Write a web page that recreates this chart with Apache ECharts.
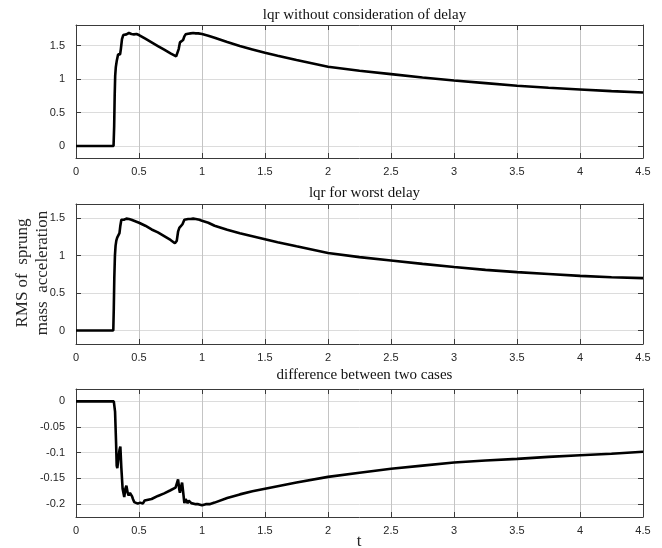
<!DOCTYPE html>
<html>
<head>
<meta charset="utf-8">
<script src="https://cdn.jsdelivr.net/npm/echarts@6/dist/echarts.min.js"></script>
<style>
  html, body { margin: 0; padding: 0; background: #fff; }
  #chart { width: 662px; height: 548px; }
</style>
</head>
<body>
<div id="chart"></div>
<script>
// values
const titles = ['lqr without consideration of delay', 'lqr for worst delay', 'difference between two cases']
const xTicks = [0, 0.5, 1, 1.5, 2, 2.5, 3, 3.5, 4, 4.5]
const yTicks1 = [0, 0.5, 1, 1.5]
const yTicks2 = [0, 0.5, 1, 1.5]
const yTicks3 = [-0.2, -0.15, -0.1, -0.05, 0]
const yLabel = 'RMS of  sprung\nmass  acceleration'
const xLabel = 't'

const tNoDelay = [0, 0.298, 0.303, 0.307, 0.311, 0.316, 0.324, 0.334, 0.35, 0.356, 0.365, 0.375, 0.39, 0.4, 0.41, 0.42, 0.43, 0.44, 0.45, 0.46, 0.48, 0.5, 0.55, 0.6, 0.65, 0.7, 0.75, 0.795, 0.8, 0.805, 0.815, 0.825, 0.84, 0.85, 0.86, 0.87, 0.88, 0.89, 0.91, 0.93, 0.95, 0.97, 1.0, 1.05, 1.1, 1.2, 1.3, 1.4, 1.5, 1.6, 1.75, 2.0, 2.25, 2.5, 2.75, 3.0, 3.25, 3.5, 3.75, 4.0, 4.25, 4.5]
const rmsNoDelay = [0, 0, 0.3, 0.75, 1.05, 1.18, 1.28, 1.37, 1.37, 1.45, 1.6, 1.66, 1.665, 1.67, 1.665, 1.69, 1.68, 1.675, 1.68, 1.67, 1.675, 1.66, 1.605, 1.55, 1.495, 1.44, 1.385, 1.34, 1.32, 1.33, 1.45, 1.55, 1.57, 1.585, 1.64, 1.67, 1.67, 1.68, 1.685, 1.69, 1.685, 1.685, 1.675, 1.65, 1.62, 1.555, 1.495, 1.445, 1.395, 1.35, 1.285, 1.185, 1.125, 1.075, 1.025, 0.98, 0.94, 0.9, 0.87, 0.845, 0.82, 0.8]

const tWorst = [0, 0.296, 0.3, 0.304, 0.309, 0.314, 0.32, 0.327, 0.34, 0.345, 0.352, 0.36, 0.37, 0.38, 0.39, 0.4, 0.41, 0.42, 0.43, 0.44, 0.45, 0.5, 0.55, 0.6, 0.65, 0.7, 0.75, 0.785, 0.792, 0.8, 0.81, 0.82, 0.835, 0.845, 0.86, 0.875, 0.89, 0.91, 0.93, 0.95, 0.98, 1.0, 1.05, 1.1, 1.2, 1.3, 1.4, 1.5, 1.6, 1.75, 2.0, 2.25, 2.5, 2.75, 3.0, 3.25, 3.5, 3.75, 4.0, 4.25, 4.5]
const rmsWorst = [0, 0, 0.3, 0.7, 1.0, 1.13, 1.2, 1.24, 1.245, 1.3, 1.4, 1.48, 1.485, 1.48, 1.49, 1.495, 1.5, 1.49, 1.49, 1.48, 1.475, 1.44, 1.4, 1.35, 1.31, 1.26, 1.21, 1.165, 1.15, 1.2, 1.32, 1.37, 1.38, 1.42, 1.48, 1.485, 1.49, 1.49, 1.495, 1.49, 1.48, 1.465, 1.44, 1.4, 1.345, 1.3, 1.26, 1.22, 1.18, 1.125, 1.035, 0.98, 0.935, 0.89, 0.848, 0.81, 0.78, 0.755, 0.73, 0.712, 0.7]

const tDiff = [0, 0.3, 0.31, 0.318, 0.323, 0.328, 0.335, 0.345, 0.352, 0.36, 0.37, 0.383, 0.392, 0.4, 0.41, 0.418, 0.428, 0.437, 0.445, 0.452, 0.462, 0.475, 0.49, 0.51, 0.53, 0.545, 0.56, 0.6, 0.65, 0.7, 0.75, 0.79, 0.8, 0.81, 0.82, 0.825, 0.835, 0.842, 0.85, 0.86, 0.87, 0.878, 0.886, 0.895, 0.905, 0.915, 0.93, 0.95, 0.97, 1.0, 1.03, 1.06, 1.1, 1.2, 1.3, 1.4, 1.5, 1.6, 1.75, 2.0, 2.25, 2.5, 2.75, 3.0, 3.25, 3.5, 3.75, 4.0, 4.25, 4.5]
const rmsDiff = [0, 0, -0.02, -0.08, -0.125, -0.13, -0.115, -0.095, -0.088, -0.13, -0.17, -0.186, -0.17, -0.164, -0.178, -0.183, -0.178, -0.175, -0.185, -0.19, -0.196, -0.197, -0.199, -0.197, -0.199, -0.193, -0.196, -0.19, -0.184, -0.179, -0.173, -0.168, -0.16, -0.152, -0.172, -0.178, -0.165, -0.158, -0.175, -0.198, -0.19, -0.187, -0.198, -0.193, -0.19, -0.198, -0.195, -0.2, -0.2, -0.202, -0.2, -0.2, -0.197, -0.188, -0.181, -0.175, -0.17, -0.165, -0.158, -0.147, -0.139, -0.131, -0.125, -0.119, -0.115, -0.112, -0.108, -0.105, -0.102, -0.098]

const pairs = (ts, vs) => ts.map((t, i) => [t, vs[i]])

const grids = [
    {left: 76, right: 19, top: 25, height: 133, outerBoundsMode: 'none'},
    {left: 76, right: 19, top: 204, height: 140, outerBoundsMode: 'none'},
    {left: 76, right: 19, top: 389, height: 128, outerBoundsMode: 'none'}
]
const yRanges = [[-0.18, 1.81], [-0.18, 1.69], [-0.225, 0.024]]
const yTickSets = [yTicks1, yTicks2, yTicks3]

const labelFont = {fontFamily: 'Liberation Sans', fontSize: 11, color: '#262626'}
const frame = {show: true, onZero: false, lineStyle: {color: '#3a3a3a', width: 1}}
const tick = {show: true, inside: true, length: 5, lineStyle: {color: '#3a3a3a'}}

let xAxes = [], yAxes = []
grids.forEach((g, i) => {
    xAxes.push({
        type: 'value', gridIndex: i, min: 0, max: 4.5, interval: 0.5, position: 'bottom',
        axisLine: frame, axisTick: tick,
        axisLabel: Object.assign({margin: 8}, labelFont),
        splitLine: {show: true, lineStyle: {color: '#c4c4c4', width: 1}}
    })
    xAxes.push({
        type: 'value', gridIndex: i, min: 0, max: 4.5, interval: 0.5, position: 'top',
        axisLine: frame, axisTick: tick, axisLabel: {show: false}, splitLine: {show: false}
    })
    const ticks = yTickSets[i]
    yAxes.push({
        type: 'value', gridIndex: i, min: yRanges[i][0], max: yRanges[i][1], position: 'left',
        axisLine: frame,
        axisTick: Object.assign({customValues: ticks}, tick),
        axisLabel: Object.assign({customValues: ticks, margin: 11}, labelFont),
        splitLine: {show: true, lineStyle: {color: '#dcdcdc', width: 1}}
    })
    yAxes.push({
        type: 'value', gridIndex: i, min: yRanges[i][0], max: yRanges[i][1], position: 'right',
        axisLine: frame,
        axisTick: Object.assign({customValues: ticks}, tick),
        axisLabel: {show: false}, splitLine: {show: false}
    })
})

const seriesData = [pairs(tNoDelay, rmsNoDelay), pairs(tWorst, rmsWorst), pairs(tDiff, rmsDiff)]

let option = {
    backgroundColor: '#fff',
    animation: false,
    title: titles.map((txt, i) => ({
        text: txt,
        left: 76 + 567 / 2, textAlign: 'center',
        top: [3, 181, 363][i],
        textStyle: {fontFamily: 'Liberation Serif', fontSize: 15, fontWeight: 'normal', color: '#111'}
    })),
    graphic: [
        {
            type: 'text', x: 33, y: 273, rotation: Math.PI / 2,
            style: {text: yLabel, align: 'center', verticalAlign: 'middle', lineHeight: 20,
                font: '17px "Liberation Serif"', fill: '#262626'}
        },
        {
            type: 'text', x: 359, y: 542,
            style: {text: xLabel, align: 'center', verticalAlign: 'middle',
                font: '17px "Liberation Serif"', fill: '#262626'}
        }
    ],
    grid: grids,
    xAxis: xAxes,
    yAxis: yAxes,
    series: seriesData.map((d, i) => ({
        type: 'line',
        xAxisIndex: i * 2,
        yAxisIndex: i * 2,
        data: d,
        showSymbol: false,
        lineStyle: {color: '#000', width: 2.6},
        itemStyle: {color: '#000'}
    }))
}

let mychart = echarts.init(document.getElementById('chart'))
mychart.setOption(option)
</script>
</body>
</html>
